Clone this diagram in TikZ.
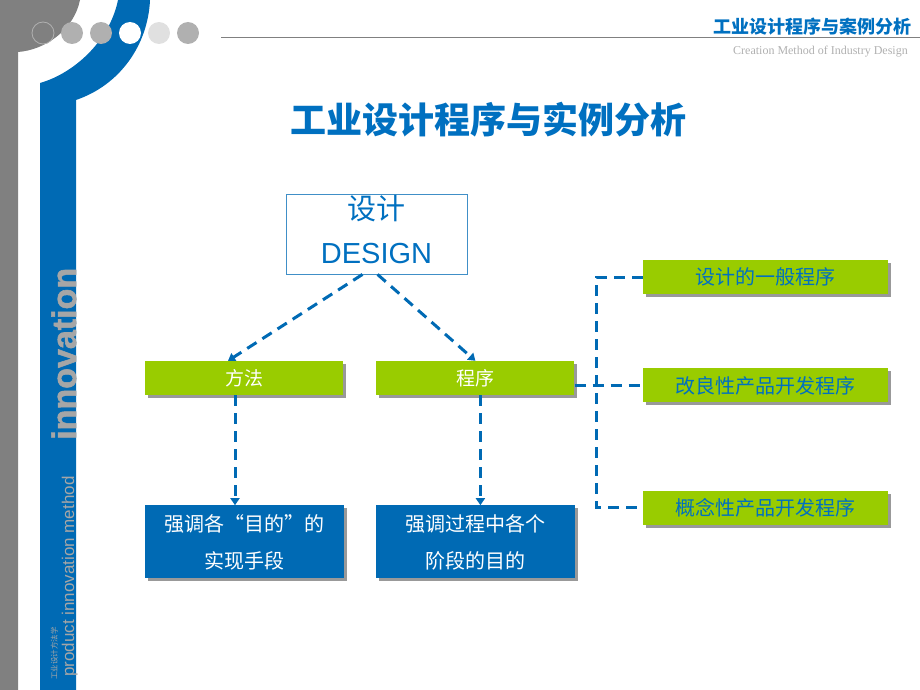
\documentclass[tikz,border=0pt]{standalone}
\usepackage{fontspec}
\setmainfont{Liberation Sans}
\newfontfamily\cjk{Noto Sans CJK SC}
\newfontfamily\serifen{Liberation Serif}
\newfontfamily\heavysans{Liberation Sans Bold}[FakeBold=1.6]
\usetikzlibrary{shapes.geometric, arrows.meta, positioning, shadows}
\definecolor{slideblue}{RGB}{0,106,180}
\definecolor{textblue}{RGB}{0,112,192}
\definecolor{boxgreen}{RGB}{153,204,0}
\definecolor{sidegray}{RGB}{128,128,128}
\definecolor{dotgray}{RGB}{176,176,176}
\definecolor{palegray}{RGB}{224,224,224}
\definecolor{lettergray}{RGB}{166,166,166}
\tikzstyle{designbox} = [
	rectangle,
	minimum width=181pt,
	minimum height=80pt,
	inner sep=0pt,
	text depth=9pt,
	align=center,
	draw=slideblue!75,
	line width=0.8pt,
	fill=white,
	text=textblue,
	font=\fontsize{29}{44}\selectfont
]
\tikzstyle{greenbox} = [
	rectangle,
	minimum width=198pt,
	minimum height=34pt,
	inner sep=0pt,
	fill=boxgreen,
	drop shadow={shadow xshift=3pt, shadow yshift=-3pt, fill=black!40, opacity=1}
]
\tikzstyle{leftgreen} = [
	greenbox,
	text=white,
	font=\cjk\fontsize{19}{22}\selectfont
]
\tikzstyle{rightgreen} = [
	greenbox,
	minimum width=245pt,
	text=textblue,
	font=\cjk\fontsize{20}{22}\selectfont
]
\tikzstyle{bluebox} = [
	rectangle,
	minimum width=199pt,
	minimum height=73pt,
	align=center,
	fill=slideblue,
	text=white,
	drop shadow={shadow xshift=3pt, shadow yshift=-3pt, fill=black!40, opacity=1},
	font=\cjk\fontsize{20}{37}\selectfont
]
\tikzstyle{link} = [line width=3pt, draw=slideblue, dash pattern=on 11pt off 7pt]
\tikzstyle{arrow} = [link, -{Triangle[width=9pt,length=7pt]}]
\tikzstyle{sidetext} = [rotate=90, anchor=base west, inner sep=0pt, text=lettergray]
\begin{document}
\begin{tikzpicture}[x=1pt, y=-1pt]
		\useasboundingbox (0,0) rectangle (920,690);

		% slide frame
		\fill [sidegray] (0,0) -- (80,0) .. controls (74,30) and (45,50) .. (18,52) -- (18,690) -- (0,690) -- cycle;
		\fill [slideblue] (40,690) -- (40,83) .. controls (75,73) and (110,40) .. (118,0) -- (150,0) .. controls (148,45) and (120,85) .. (76,100) -- (76,690) -- cycle;
		\draw [dotgray, line width=0.8pt] (43,33) circle [radius=11];
		\fill [dotgray] (72,33) circle [radius=11];
		\fill [dotgray] (101,33) circle [radius=11];
		\fill [white] (130,33) circle [radius=11];
		\fill [palegray] (159,33) circle [radius=11];
		\fill [dotgray] (188,33) circle [radius=11];
		\draw [sidegray, line width=1pt] (221,38) -- (920,38);

		\node (header) [anchor=base east, inner sep=0pt, text=textblue, font=\cjk\bfseries\fontsize{18}{20}\selectfont] at (912,34) {工业设计程序与案例分析};
		\node (subtitle) [anchor=base east, inner sep=0pt, text=dotgray, font=\serifen\fontsize{12}{14}\selectfont] at (908,55) {Creation Method of Industry Design};
		\node (innov) [sidetext, font=\heavysans\fontsize{34}{36}\selectfont] at (76,440) {innovation};
		\node (method) [sidetext, font=\fontsize{17}{19}\selectfont] at (74,677) {product innovation method};
		\node (course) [sidetext, font=\cjk\fontsize{7.5}{8}\selectfont] at (57,680) {工业设计方法学};

		\node (title) [text=textblue, font=\cjk\bfseries\fontsize{36}{40}\selectfont] at (488,120) {工业设计程序与实例分析};

		% diagram
		\node (design) [designbox] at (376.5,234) {{\cjk 设计}\\DESIGN};
		\node (fangfa) [leftgreen] at (244,378) {方法};
		\node (chengxu) [leftgreen, right=33pt of fangfa] {程序};
		\node (shouduan) [bluebox, below=110pt of fangfa] {强调各“目的”的\\实现手段};
		\node (mudi) [bluebox, below=110pt of chengxu] {强调过程中各个\\阶段的目的};

		\node (yiban) [rightgreen] at (765.5,277) {设计的一般程序};
		\node (gailiang) [rightgreen, below=74pt of yiban] {改良性产品开发程序};
		\node (gainian) [rightgreen, below=88pt of gailiang] {概念性产品开发程序};

		\draw [arrow] ([xshift=-14pt]design.south) -- ([xshift=-16pt]fangfa.north);
		\draw [arrow] ([xshift=1pt]design.south) -- (chengxu.north);
		\draw [arrow] ([xshift=-9pt]fangfa.south) -- ([xshift=-9pt]fangfa.south |- shouduan.north);
		\draw [arrow] ([xshift=5pt]chengxu.south) -- ([xshift=5pt]chengxu.south |- mudi.north);

		\draw [link] (yiban.west) -- ++(-46,0) |- (gainian.west);
		\draw [link] (chengxu.east |- gailiang.west) -- (gailiang.west);
	\end{tikzpicture}
\end{document}
